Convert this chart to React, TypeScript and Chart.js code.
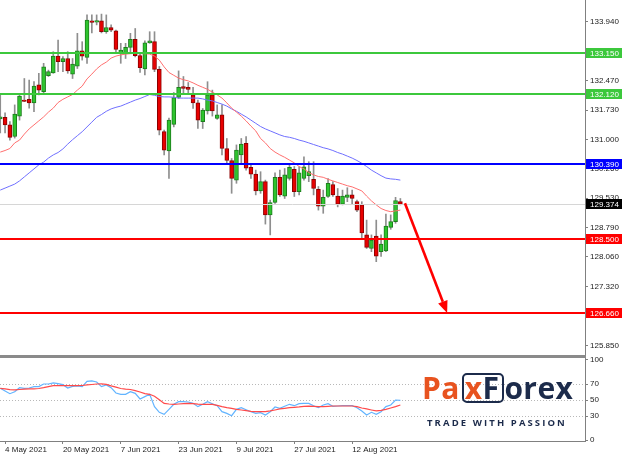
import React, { useEffect, useRef } from 'react';
import { Chart, registerables } from 'chart.js';

Chart.register(...registerables);

// ---------- data ----------
const opens = [
  131.51, 131.55, 131.36, 131.07, 131.58, 131.98, 132.0, 131.91, 132.36, 132.19,
  132.59, 132.66, 133.08, 132.94, 133.02, 132.63, 132.83, 133.21, 133.05, 133.96,
  133.93, 133.96, 133.69, 133.79, 133.71, 133.16, 133.15, 133.3, 133.5, 133.09,
  132.76, 133.41, 133.44, 132.75, 131.19, 130.71, 131.37, 132.05, 132.32, 132.3,
  132.11, 131.91, 131.44, 131.71, 132.11, 131.52, 131.61, 130.77, 130.47, 129.98,
  130.61, 130.9, 130.3, 130.13, 129.71, 129.94, 129.11, 129.42, 130.05, 129.58,
  130.02, 130.25, 129.69, 130.02, 130.09, 130.0, 129.75, 129.33, 129.57, 129.87,
  129.58, 129.38, 129.55, 129.61, 129.44, 129.36, 128.61, 128.27, 128.58, 128.19,
  128.21, 128.8, 128.94, 129.44,
];
const highs = [
  132.11, 131.66, 131.44, 131.86, 132.15, 132.52, 132.48, 132.44, 132.65, 132.9,
  132.73, 133.19, 133.48, 133.07, 133.19, 133.02, 133.65, 133.44, 134.11, 134.11,
  134.11, 134.13, 134.11, 133.86, 133.73, 133.4, 133.4, 133.65, 133.77, 133.17,
  133.46, 133.69, 133.69, 132.82, 131.23, 131.53, 132.17, 132.71, 132.57, 132.42,
  132.3, 131.98, 131.77, 132.44, 132.23, 131.86, 131.86, 131.02, 130.52, 130.86,
  131.02, 131.07, 130.38, 130.23, 130.19, 129.98, 129.48, 130.16, 130.23, 130.27,
  130.36, 130.32, 130.31, 130.56, 130.44, 130.44, 129.82, 129.73, 130.02, 129.94,
  129.77, 129.73, 129.79, 129.73, 129.48, 129.44, 128.98, 128.61, 128.98, 128.61,
  129.13, 129.11, 129.55, 129.52,
];
const lows = [
  131.16, 131.16, 130.98, 131.03, 131.48, 131.94, 131.78, 131.69, 132.11, 132.15,
  132.57, 132.65, 132.69, 132.69, 132.65, 132.52, 132.77, 132.98, 132.9, 133.66,
  133.86, 133.66, 133.65, 133.69, 133.19, 132.9, 133.02, 133.15, 133.06, 132.67,
  132.61, 133.4, 132.69, 131.11, 130.61, 130.02, 131.31, 132.02, 132.15, 132.15,
  131.77, 131.27, 131.27, 131.63, 131.58, 131.5, 130.61, 130.4, 129.65, 129.9,
  130.4, 130.23, 130.02, 129.61, 129.65, 128.88, 128.61, 129.4, 129.57, 129.52,
  129.98, 129.57, 129.61, 129.98, 129.94, 129.61, 129.23, 129.15, 129.55, 129.57,
  129.31, 129.36, 129.44, 129.38, 129.19, 128.52, 128.27, 128.19, 127.94, 128.07,
  128.19, 128.75, 128.9, 129.36,
];
const closes = [
  131.56, 131.36, 131.05, 131.63, 132.08, 131.95, 131.91, 132.33, 132.23, 132.81,
  132.69, 133.08, 132.94, 133.02, 132.71, 132.88, 133.21, 133.08, 133.98, 133.92,
  133.97, 133.69, 133.79, 133.73, 133.25, 133.23, 133.3, 133.5, 133.09, 132.79,
  133.41, 133.46, 132.75, 131.23, 130.73, 131.48, 132.04, 132.3, 132.27, 132.25,
  131.91, 131.48, 131.73, 132.11, 131.71, 131.61, 130.77, 130.47, 130.02, 130.73,
  130.88, 130.28, 130.13, 129.71, 129.94, 129.11, 129.42, 130.05, 129.61, 130.11,
  130.3, 129.69, 130.16, 130.31, 130.19, 129.77, 129.33, 129.55, 129.9, 129.61,
  129.38, 129.58, 129.61, 129.52, 129.23, 128.66, 128.3, 128.48, 128.08, 128.38,
  128.83, 128.94, 129.47, 129.374,
];
const maFast = [
  130.68, 130.72, 130.77, 130.91, 130.98, 131.13, 131.26, 131.36, 131.46, 131.56,
  131.68, 131.78, 131.92, 132.0, 132.06, 132.12, 132.23, 132.33, 132.51, 132.63,
  132.76, 132.86, 132.93, 133.03, 133.08, 133.11, 133.13, 133.14, 133.15, 133.14,
  133.14, 133.13, 133.08, 132.98, 132.81, 132.67, 132.6, 132.53, 132.49, 132.46,
  132.41, 132.35, 132.3, 132.25, 132.18, 132.11, 132.03, 131.91, 131.78, 131.68,
  131.58, 131.46, 131.33, 131.21, 131.02, 130.91, 130.77, 130.68, 130.61, 130.55,
  130.48, 130.41, 130.32, 130.26, 130.17, 130.11, 130.07, 130.05, 130.0, 129.96,
  129.92, 129.88, 129.84, 129.81, 129.76, 129.71, 129.58, 129.46, 129.36, 129.27,
  129.22, 129.19, 129.21, 129.23,
];
const maSlow = [
  129.73, 129.78, 129.83, 129.88, 129.96, 130.06, 130.16, 130.26, 130.36, 130.43,
  130.53, 130.61, 130.67, 130.76, 130.88, 130.99, 131.09, 131.19, 131.31, 131.43,
  131.55, 131.62, 131.7, 131.76, 131.8, 131.83, 131.88, 131.93, 131.98, 132.02,
  132.07, 132.12, 132.1, 132.07, 132.06, 132.06, 132.05, 132.03, 132.03, 132.03,
  132.03, 132.03, 132.01, 131.98, 131.96, 131.92, 131.88, 131.83, 131.76, 131.7,
  131.63, 131.56, 131.48, 131.4, 131.32, 131.26, 131.21, 131.16, 131.11, 131.07,
  131.05, 131.02, 130.98, 130.95, 130.91, 130.87, 130.83, 130.79, 130.76, 130.72,
  130.67, 130.63, 130.58, 130.53, 130.47, 130.4, 130.32, 130.23, 130.16, 130.09,
  130.03, 130.01, 130.0, 129.98,
];
const oscMain = [
  64.6, 61.3, 57.9, 60.4, 65.4, 64.6, 65.0, 66.7, 66.7, 70.0,
  70.0, 71.3, 70.4, 69.2, 65.0, 67.1, 67.5, 66.7, 73.3, 73.8,
  72.5, 66.7, 68.8, 65.4, 58.8, 57.1, 57.1, 60.4, 58.3, 51.3,
  54.2, 57.1, 41.7, 34.6, 32.1, 38.3, 44.6, 47.9, 47.9, 47.5,
  45.8, 41.7, 44.6, 47.9, 45.4, 42.9, 35.4, 33.3, 30.4, 38.3,
  40.4, 37.9, 35.4, 33.3, 34.2, 31.3, 35.4, 41.3, 39.6, 42.1,
  44.6, 42.9, 45.4, 45.8, 45.8, 42.9, 40.4, 43.8, 45.4, 42.1,
  42.5, 42.9, 42.9, 42.9, 40.4, 36.3, 31.3, 34.6, 32.1, 35.4,
  41.7, 43.8, 50.0, 49.6,
];
const oscSignal = [
  64.6, 63.8, 62.9, 62.7, 63.1, 63.6, 63.8, 64.0, 64.4, 65.4,
  66.7, 67.9, 67.9, 67.9, 67.9, 67.9, 67.9, 68.1, 68.8, 69.4,
  70.0, 70.2, 69.6, 67.7, 66.0, 64.4, 63.6, 63.1, 61.7, 60.0,
  57.9, 57.1, 54.6, 50.4, 45.8, 45.0, 44.6, 45.0, 45.4, 45.8,
  45.4, 44.8, 44.6, 44.6, 44.6, 43.3, 41.7, 40.4, 39.6, 38.3,
  37.5, 36.7, 35.8, 35.4, 35.4, 35.4, 36.3, 37.5, 38.8, 39.6,
  40.4, 40.8, 41.3, 42.1, 42.3, 42.1, 41.7, 41.7, 42.1, 42.5,
  42.5, 42.5, 42.5, 42.5, 41.7, 40.0, 38.8, 37.5, 36.3, 37.1,
  38.3, 40.0, 41.7, 43.8,
];
const priceTicks = [133.94, 133.21, 132.47, 131.73, 131.0, 130.26, 129.53, 128.79, 128.06, 127.32, 126.59, 125.85];
const oscTicks = [0, 30, 50, 70, 100];
const oscGridLevels = [30, 50, 70];
const dateTickIndex = [1, 13, 25, 37, 49, 61, 73];
const dateTickLabels = ['4 May 2021', '20 May 2021', '7 Jun 2021', '23 Jun 2021', '9 Jul 2021', '27 Jul 2021', '12 Aug 2021'];
const levelValues = [133.15, 132.12, 130.39, 128.5, 126.66];
const levelLabels = ['133.150', '132.120', '130.390', '128.500', '126.660'];
const levelColors = ['#3cc83c', '#3cc83c', '#0000ff', '#ff0000', '#ff0000'];
const lastPrice = 129.374;
const lastPriceLabel = '129.374';
const arrowStart = [83.95, 129.4];
const arrowEnd = [92.7, 126.66];

// ---------- view settings ----------
const X_MIN = -0.05;
const X_MAX = 121.3;
const PRICE_MIN = 125.6075;
const PRICE_MAX = 134.4825;
const OSC_MIN = -1.25;
const OSC_MAX = 103.75;
const FONT_FAMILY = '"Liberation Sans", Arial, sans-serif';
const TEXT = '#222222';
const AXIS = '#808080';
const ORANGE = '#e8531f';
const NAVY = '#1c2b4b';

const upperPlugin = {
  id: 'upperPlugin',
  afterDatasetsDraw(chart: any) {
    const { ctx, chartArea: a, scales } = chart;
    const ys = scales.y;
    const xs = scales.x;
    ctx.save();
    ctx.beginPath();
    ctx.rect(a.left, a.top, a.right - a.left, a.bottom - a.top);
    ctx.clip();
    const py = Math.round(ys.getPixelForValue(lastPrice)) + 0.5;
    ctx.strokeStyle = '#d6d6d6';
    ctx.lineWidth = 1;
    ctx.beginPath();
    ctx.moveTo(a.left, py);
    ctx.lineTo(a.right, py);
    ctx.stroke();
    levelValues.forEach((v, i) => {
      const y = Math.round(ys.getPixelForValue(v));
      ctx.fillStyle = levelColors[i];
      ctx.fillRect(a.left, y - 1, a.right - a.left, 2);
    });
    const x1 = xs.getPixelForValue(arrowStart[0]);
    const y1 = ys.getPixelForValue(arrowStart[1]);
    const x2 = xs.getPixelForValue(arrowEnd[0]);
    const y2 = ys.getPixelForValue(arrowEnd[1]);
    const ang = Math.atan2(y2 - y1, x2 - x1);
    const head = 12;
    const half = 5;
    const bx = x2 - head * Math.cos(ang);
    const by = y2 - head * Math.sin(ang);
    ctx.strokeStyle = '#ff0000';
    ctx.lineWidth = 2.6;
    ctx.beginPath();
    ctx.moveTo(x1, y1);
    ctx.lineTo(bx, by);
    ctx.stroke();
    ctx.fillStyle = '#ff0000';
    ctx.beginPath();
    ctx.moveTo(x2, y2);
    ctx.lineTo(bx + half * Math.sin(ang), by - half * Math.cos(ang));
    ctx.lineTo(bx - half * Math.sin(ang), by + half * Math.cos(ang));
    ctx.closePath();
    ctx.fill();
    ctx.restore();
  },
  afterDraw(chart: any) {
    const { ctx, chartArea: a, scales } = chart;
    const ys = scales.y;
    ctx.save();
    ctx.font = `8px ${FONT_FAMILY}`;
    ctx.textBaseline = 'middle';
    ctx.textAlign = 'left';
    const box = (v: number, label: string, color: string) => {
      const y = Math.round(ys.getPixelForValue(v));
      ctx.fillStyle = color;
      ctx.fillRect(a.right + 1, y - 5, 36, 10);
      ctx.fillStyle = '#ffffff';
      ctx.fillText(label, a.right + 5, y + 0.5);
    };
    levelValues.forEach((v, i) => box(v, levelLabels[i], levelColors[i]));
    box(lastPrice, lastPriceLabel, '#000000');
    ctx.restore();
  },
};

const lowerPlugin = {
  id: 'lowerPlugin',
  afterDraw(chart: any) {
    const { ctx, chartArea: a } = chart;
    ctx.save();
    ctx.fillStyle = '#8a8a8a';
    ctx.fillRect(0, a.top - 2, a.right + 1, 3);
    ctx.restore();
  },
};

export default function App() {
  const topRef = useRef<HTMLCanvasElement>(null);
  const botRef = useRef<HTMLCanvasElement>(null);

  useEffect(() => {
    Chart.defaults.font.family = FONT_FAMILY;
    Chart.defaults.font.size = 8;
    Chart.defaults.color = TEXT;

    const wickData = highs.map((h, i) => ({ x: i, y: [lows[i], h] }));
    const bodyData = opens.map((o, i) => ({ x: i, y: [o, closes[i]] }));
    const bodyFill = opens.map((o, i) => (closes[i] > o ? '#2ec42e' : '#e80000'));
    const bodyEdge = opens.map((o, i) => (closes[i] > o ? '#1d7d1d' : '#8c0000'));
    const fastData = maFast.map((v, i) => ({ x: i, y: v }));
    const slowData = maSlow.map((v, i) => ({ x: i, y: v }));

    const top = new Chart(topRef.current as HTMLCanvasElement, {
      type: 'bar',
      data: {
        datasets: [
          {
            type: 'line',
            data: fastData as any,
            borderColor: '#ff6f6f',
            borderWidth: 1,
            pointRadius: 0,
            tension: 0,
            order: 0,
          } as any,
          {
            type: 'line',
            data: slowData as any,
            borderColor: '#6f6fff',
            borderWidth: 1,
            pointRadius: 0,
            tension: 0,
            order: 1,
          } as any,
          {
            type: 'bar',
            data: bodyData as any,
            backgroundColor: bodyFill,
            borderColor: bodyEdge,
            borderWidth: 1,
            borderSkipped: false,
            barThickness: 4,
            grouped: false,
            order: 2,
          } as any,
          {
            type: 'bar',
            data: wickData as any,
            backgroundColor: '#8e8e8e',
            borderWidth: 0,
            barThickness: 1,
            grouped: false,
            order: 3,
          } as any,
        ],
      },
      options: {
        responsive: false,
        animation: false,
        devicePixelRatio: 1,
        events: [],
        layout: { padding: { top: 0, left: 0, right: 0, bottom: 2 } },
        plugins: { legend: { display: false }, tooltip: { enabled: false } },
        scales: {
          x: {
            type: 'linear',
            display: false,
            min: X_MIN,
            max: X_MAX,
            offset: false,
          },
          y: {
            type: 'linear',
            position: 'right',
            min: PRICE_MIN,
            max: PRICE_MAX,
            afterBuildTicks: (axis: any) => {
              axis.ticks = priceTicks.map((v) => ({ value: v }));
            },
            afterFit: (axis: any) => {
              axis.width = 39;
              axis.paddingTop = 0;
              axis.paddingBottom = 0;
            },
            grid: { drawOnChartArea: false, drawTicks: true, tickLength: 3, color: AXIS },
            border: { display: true, color: AXIS, width: 1 },
            ticks: {
              autoSkip: false,
              padding: 2,
              color: TEXT,
              font: { size: 8, family: FONT_FAMILY },
              callback: (v: any) => Number(v).toFixed(3),
            },
          },
        },
      } as any,
      plugins: [upperPlugin],
    });

    const bot = new Chart(botRef.current as HTMLCanvasElement, {
      type: 'line',
      data: {
        datasets: [
          {
            data: oscSignal.map((v, i) => ({ x: i, y: v })),
            borderColor: '#ff4a4a',
            borderWidth: 1.2,
            pointRadius: 0,
            tension: 0,
          },
          {
            data: oscMain.map((v, i) => ({ x: i, y: v })),
            borderColor: '#62b4ff',
            borderWidth: 1.2,
            pointRadius: 0,
            tension: 0,
          },
        ],
      },
      options: {
        responsive: false,
        animation: false,
        devicePixelRatio: 1,
        events: [],
        layout: { padding: { top: 12, left: 0, right: 0, bottom: 0 } },
        plugins: { legend: { display: false }, tooltip: { enabled: false } },
        scales: {
          x: {
            type: 'linear',
            min: X_MIN,
            max: X_MAX,
            offset: false,
            afterBuildTicks: (axis: any) => {
              axis.ticks = dateTickIndex.map((v) => ({ value: v }));
            },
            afterFit: (axis: any) => {
              axis.height = 14;
              axis.paddingLeft = 0;
              axis.paddingRight = 0;
            },
            grid: { drawOnChartArea: false, drawTicks: true, tickLength: 3, color: AXIS },
            border: { display: true, color: AXIS, width: 1 },
            ticks: {
              autoSkip: false,
              maxRotation: 0,
              minRotation: 0,
              align: 'start',
              padding: 1,
              color: TEXT,
              font: { size: 8, family: FONT_FAMILY },
              callback: (_v: any, i: number) => dateTickLabels[i],
            },
          },
          y: {
            type: 'linear',
            position: 'right',
            min: OSC_MIN,
            max: OSC_MAX,
            afterBuildTicks: (axis: any) => {
              axis.ticks = oscTicks.map((v) => ({ value: v }));
            },
            afterFit: (axis: any) => {
              axis.width = 39;
              axis.paddingTop = 0;
              axis.paddingBottom = 0;
            },
            grid: {
              drawOnChartArea: true,
              drawTicks: true,
              tickLength: 3,
              tickColor: AXIS,
              color: (c: any) =>
                c.tick && oscGridLevels.includes(c.tick.value) ? '#b8b8b8' : 'rgba(0,0,0,0)',
            },
            border: { display: true, color: AXIS, width: 1, dash: [1, 2] },
            ticks: {
              autoSkip: false,
              padding: 2,
              color: TEXT,
              font: { size: 8, family: FONT_FAMILY },
              callback: (v: any) => String(v),
            },
          },
        },
      } as any,
      plugins: [lowerPlugin],
    });

    return () => {
      top.destroy();
      bot.destroy();
    };
  }, []);

  return (
    <div
      style={{
        position: 'absolute',
        left: 0,
        top: 0,
        width: 624,
        height: 455,
        background: '#ffffff',
        overflow: 'hidden',
      }}
    >
      <canvas ref={topRef} width={624} height={357} style={{ position: 'absolute', left: 0, top: 0 }} />
      <canvas ref={botRef} width={624} height={110} style={{ position: 'absolute', left: 0, top: 345 }} />
      <div
        style={{
          position: 'absolute',
          left: 422,
          top: 372,
          height: 32,
          display: 'flex',
          alignItems: 'center',
          fontFamily: '"Open Sans", sans-serif',
          fontWeight: 700,
          fontSize: 30,
          lineHeight: '32px',
          whiteSpace: 'nowrap',
          letterSpacing: 0.4,
        }}
      >
        <span style={{ color: ORANGE }}>Pa</span>
        <span
          style={{
            display: 'inline-flex',
            alignItems: 'center',
            border: `2.5px solid ${NAVY}`,
            borderRadius: 5,
            height: 26,
            padding: '0 3px 0 1px',
            marginLeft: 2,
          }}
        >
          <span style={{ color: ORANGE }}>x</span>
          <span style={{ color: NAVY }}>F</span>
        </span>
        <span style={{ color: NAVY }}>orex</span>
      </div>
      <div
        style={{
          position: 'absolute',
          left: 427,
          top: 417,
          fontFamily: '"Open Sans", sans-serif',
          fontWeight: 700,
          fontSize: 9.5,
          lineHeight: '12px',
          letterSpacing: 2.1,
          color: NAVY,
          whiteSpace: 'nowrap',
        }}
      >
        TRADE WITH PASSION
      </div>
    </div>
  );
}
